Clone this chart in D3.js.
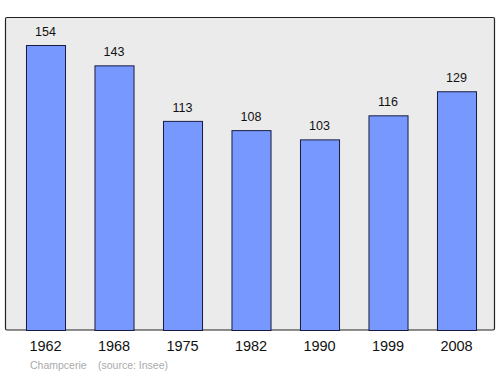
<!DOCTYPE html>
<html>
<head>
<meta charset="utf-8">
<script src="https://cdn.jsdelivr.net/npm/d3@7"></script>
<style>
  body { margin: 0; background: #fff; }
  text { font-family: "Liberation Sans", Arial, sans-serif; }
</style>
</head>
<body>
<div id="chart"></div>
<script>
// data
var years = ["1962", "1968", "1975", "1982", "1990", "1999", "2008"];
var population = [154, 143, 113, 108, 103, 116, 129];
var commune = "Champcerie";
var source = "(source: Insee)";

var width = 500, height = 374;

var svg = d3.select("#chart")
  .append("svg")
    .attr("width", width)
    .attr("height", height);

// plot frame
svg.append("rect")
  .attr("x", 5.5).attr("y", 17.5)
  .attr("width", 489).attr("height", 312.5)
  .attr("rx", 1.5)
  .style("fill", "#ebebeb")
  .style("stroke", "#222")
  .style("stroke-width", 1.2);

var x = d3.scaleBand()
  .domain(years)
  .range([11.25, 490.75])
  .paddingInner(0.43)
  .paddingOuter(0.215);

var y = d3.scaleLinear()
  .domain([0, 154])
  .range([330, 45]);

// bars
svg.append("g")
  .selectAll("rect")
  .data(population)
  .enter()
  .append("rect")
    .attr("x", function (d, i) { return x(years[i]) + 0.5; })
    .attr("y", function (d) { return y(d) + 0.5; })
    .attr("width", x.bandwidth())
    .attr("height", function (d) { return y(0) - y(d); })
    .style("fill", "#7799ff")
    .style("stroke", "#1a1a40")
    .style("stroke-width", 1);

// value labels
svg.append("g")
  .selectAll("text")
  .data(population)
  .enter()
  .append("text")
    .attr("x", function (d, i) { return x(years[i]) + x.bandwidth() / 2; })
    .attr("y", function (d) { return y(d) - 9; })
    .attr("text-anchor", "middle")
    .style("font-size", "12.5px")
    .style("fill", "#111")
    .text(function (d) { return d; });

// year axis
var axis = svg.append("g")
  .attr("transform", "translate(0,330)")
  .call(d3.axisBottom(x).tickSize(0).tickPadding(11));
axis.select(".domain").remove();
axis.selectAll("text")
  .style("font-size", "14.5px")
  .style("font-family", "Liberation Sans, Arial, sans-serif")
  .style("fill", "#111");

// source line
svg.append("text")
  .attr("x", 30).attr("y", 369)
  .style("font-size", "10.5px")
  .style("fill", "#aaa")
  .text(commune);
svg.append("text")
  .attr("x", 98).attr("y", 369)
  .style("font-size", "10.5px")
  .style("fill", "#aaa")
  .text(source);
</script>
</body>
</html>
